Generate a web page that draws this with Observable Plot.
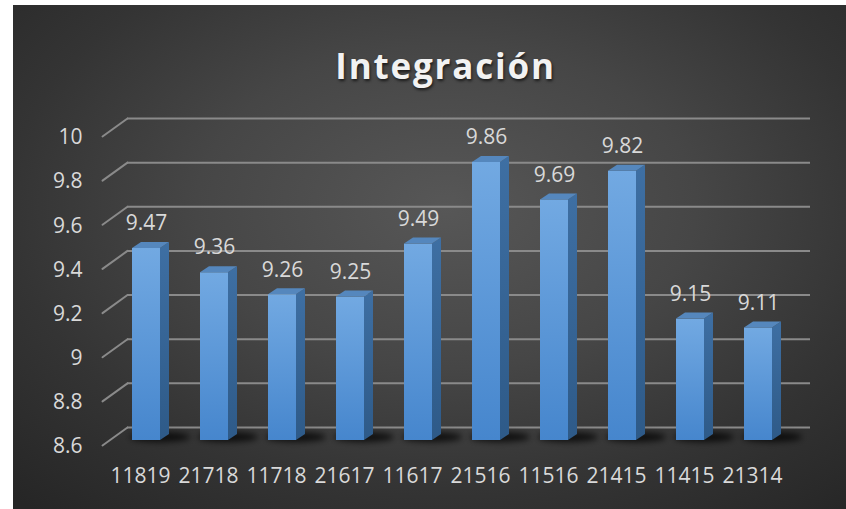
<!DOCTYPE html>
<html><head><meta charset="utf-8">
<script src="https://cdn.jsdelivr.net/npm/d3@7"></script>
<script src="https://cdn.jsdelivr.net/npm/@observablehq/plot@0.6"></script>
<style>
html,body{margin:0;padding:0;background:#fff;width:846px;height:509px;overflow:hidden;}
#chart{position:absolute;left:13px;top:5px;width:833px;height:504px;overflow:hidden;
  background:radial-gradient(ellipse 75% 80% at 52% 40%, #575757 0%, #464646 40%, #343434 70%, #262626 100%);}
#title{position:absolute;left:16px;top:41px;width:833px;text-align:center;font-family:"Open Sans",sans-serif;
  font-weight:700;font-size:35px;line-height:40px;letter-spacing:1.8px;color:#f2f2f2;
  text-shadow:1px 2px 3px rgba(0,0,0,0.65);margin:0;}
#plot{position:absolute;left:0;top:95px;}
</style></head>
<body>
<div id="chart"><div id="title">Integración</div><div id="plot"></div></div>
<script>
const categories = ["11819","21718","11718","21617","11617","21516","11516","21415","11415","21314"];
const values = [9.47,9.36,9.26,9.25,9.49,9.86,9.69,9.82,9.15,9.11];
const yTicks = [8.6,8.8,9,9.2,9.4,9.6,9.8,10];

const rows = categories.map((c,i)=>({cat:c, value:values[i]}));
const base = yTicks[0];
const gridColor = "#8a8a8a";
const textColor = "#d9d9d9";

const lineShape = {draw(context, l){ context.moveTo(0,0); context.lineTo(0,-l); }};

const svg = Plot.plot({
  width: 833, height: 409,
  marginTop: 31, marginBottom: 69, marginLeft: 77, marginRight: 33,
  style: {fontFamily: "'Open Sans', sans-serif", background: "transparent", color: textColor, overflow: "visible"},
  x: {domain: categories, padding: 0.59, label: null},
  y: {domain: [yTicks[0], yTicks[yTicks.length-1]], label: null},
  marks: [
    Plot.ruleY(yTicks, {stroke: gridColor, strokeWidth: 2, dy: -13, insetLeft: 37, insetRight: 3}),
    Plot.vector(yTicks, {y: d=>d, frameAnchor: "left", dx: 12, dy: 5, length: 30.8, rotate: 54.2,
      anchor: "start", shape: lineShape, stroke: gridColor, strokeWidth: 2}),
    Plot.axisY(yTicks, {tickSize: 0, tickPadding: 8, fontSize: 21, fill: textColor, dy: 6,
      tickFormat: d => String(d)}),
    Plot.axisX({tickSize: 0, tickPadding: 28, fontSize: 21, fill: textColor, dx: -6}),
    Plot.barY(rows, {x: "cat", y1: () => base, y2: "value", fill: "url(#gFront)",
      render(index, scales, vals, dims, ctx, next) {
        const g = next(index, scales, vals, dims, ctx);
        const D = 9, H = 6;
        const sel = d3.select(g);
        const rects = [];
        sel.selectAll("rect").each(function(){
          const r = d3.select(this);
          rects.push({x:+r.attr("x"), y:+r.attr("y"), w:+r.attr("width"), h:+r.attr("height")});
        });
        rects.forEach(b=>{
          sel.insert("ellipse", ":first-child")
            .attr("cx", b.x + b.w/2 + 14).attr("cy", b.y + b.h - 3)
            .attr("rx", b.w/2 + 16).attr("ry", 5)
            .attr("fill", "rgba(0,0,0,0.75)").attr("filter", "url(#blur)");
        });
        rects.forEach(b=>{
          const x2 = b.x + b.w, yt = b.y, yb = b.y + b.h;
          sel.append("polygon")
            .attr("points", `${x2},${yb} ${x2},${yt} ${x2+D},${yt-H} ${x2+D},${yb-H}`)
            .attr("fill", "url(#gSide)");
          sel.append("polygon")
            .attr("points", `${b.x},${yt} ${x2},${yt} ${x2+D},${yt-H} ${b.x+D},${yt-H}`)
            .attr("fill", "#5587bd");
        });
        return g;
      }}),
    Plot.text(rows, {x: "cat", y: "value", text: d => String(d.value), dy: -25, fontSize: 21, fill: textColor})
  ]
});

const defs = d3.select(svg).insert("defs", ":first-child");
const gf = defs.append("linearGradient").attr("id","gFront").attr("x1",0).attr("y1",0).attr("x2",0).attr("y2",1);
gf.append("stop").attr("offset","0%").attr("stop-color","#72a9e2");
gf.append("stop").attr("offset","100%").attr("stop-color","#4686cd");
const gs = defs.append("linearGradient").attr("id","gSide").attr("x1",0).attr("y1",0).attr("x2",0).attr("y2",1);
gs.append("stop").attr("offset","0%").attr("stop-color","#3e6fa3");
gs.append("stop").attr("offset","100%").attr("stop-color","#2e5a88");
defs.append("filter").attr("id","blur").attr("x","-50%").attr("y","-200%").attr("width","200%").attr("height","500%")
  .append("feGaussianBlur").attr("stdDeviation", 3);

document.getElementById("plot").appendChild(svg);
</script>
</body></html>
